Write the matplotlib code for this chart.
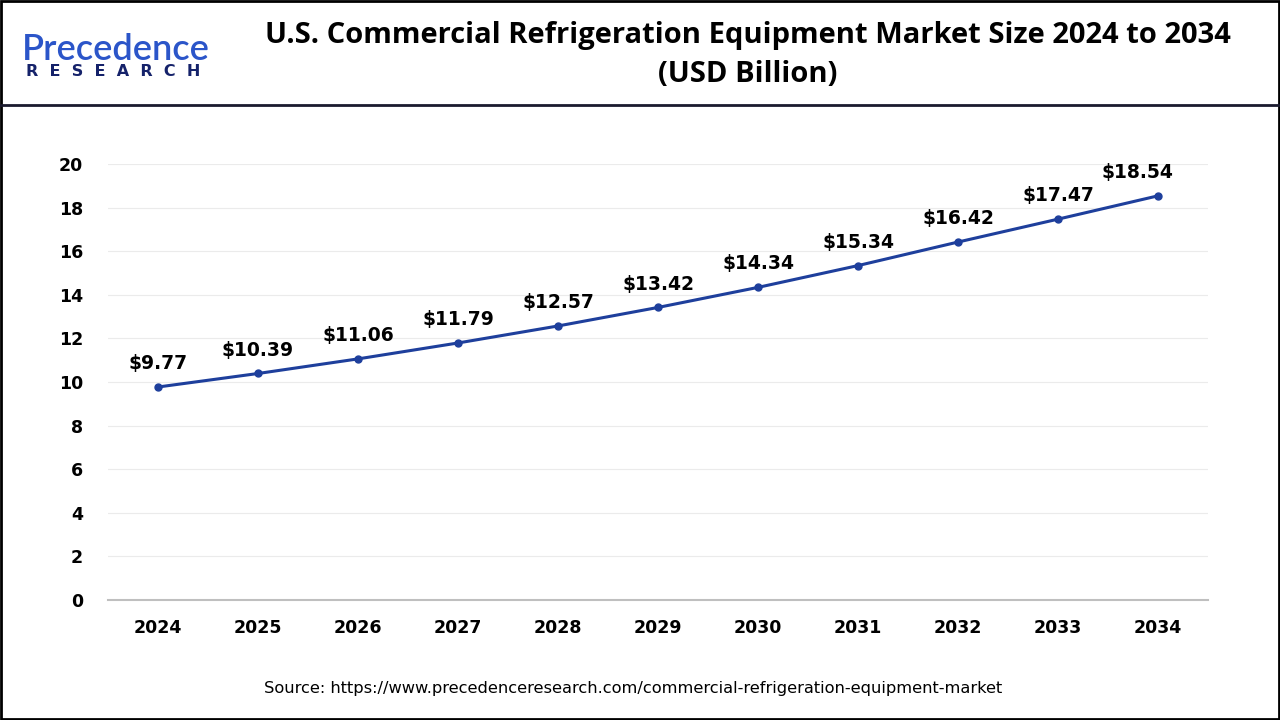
import numpy as np
import matplotlib.pyplot as plt
from matplotlib.patches import Rectangle
from matplotlib.lines import Line2D

# data
years = ["2024", "2025", "2026", "2027", "2028", "2029", "2030", "2031", "2032", "2033", "2034"]
values = [9.77, 10.39, 11.06, 11.79, 12.57, 13.42, 14.34, 15.34, 16.42, 17.47, 18.54]
yticks = [0, 2, 4, 6, 8, 10, 12, 14, 16, 18, 20]

title = "U.S. Commercial Refrigeration Equipment Market Size 2024 to 2034\n(USD Billion)"
source = "Source: https://www.precedenceresearch.com/commercial-refrigeration-equipment-market"

line_color = "#1e3f9c"

fig = plt.figure(figsize=(12.8, 7.2), dpi=100)
fig.patch.set_facecolor("white")

# outer border and header separator
fig.add_artist(Rectangle((0.001, 0.001), 0.998, 0.998, transform=fig.transFigure,
                         fill=False, edgecolor="black", lw=2))
fig.add_artist(Line2D([0, 1], [1 - 105 / 720, 1 - 105 / 720], transform=fig.transFigure,
                      color="#1a1a2e", lw=2))

# logo as text
fig.text(22 / 1280, 1 - 49 / 720, "Precedence", fontsize=26, color="#2b55c9",
         fontfamily="Lato", fontweight="semibold", ha="left", va="center")
fig.text(26 / 1280, 1 - 72 / 720, "R  E  S  E  A  R  C  H", fontsize=11.5, color="#15226a",
         fontweight="bold", fontfamily="DejaVu Sans", ha="left", va="center")

fig.text(748 / 1280, 1 - 55 / 720, title, fontsize=21, fontweight="bold",
         fontfamily="Open Sans", ha="center", va="center", linespacing=1.5)

ax = fig.add_axes([108 / 1280, 1 - 600 / 720, 1100 / 1280, 436 / 720])
x = np.arange(len(years))
ax.plot(x, values, color=line_color, lw=2.2, marker="o", markersize=5, zorder=3)
for xi, v in zip(x, values):
    dx = -15 if xi == x[-1] else 0
    ax.annotate(f"${v:.2f}", (xi, v), xytext=(dx, 10), textcoords="offset points",
                ha="center", va="bottom", fontsize=13.5, fontweight="bold")

ax.set_xlim(-0.5, len(years) - 0.5)
ax.set_ylim(0, 20)
ax.set_yticks(yticks)
ax.set_xticks(x)
ax.set_xticklabels(years)
ax.grid(axis="y", color="#ebebeb", lw=0.8)
ax.set_axisbelow(True)
for s in ["top", "right", "left"]:
    ax.spines[s].set_visible(False)
ax.spines["bottom"].set_color("#bfbfbf")
ax.spines["bottom"].set_linewidth(1.5)
ax.tick_params(length=0)
ax.tick_params(axis="x", pad=14)
ax.tick_params(axis="y", pad=18)
for lab in ax.get_xticklabels() + ax.get_yticklabels():
    lab.set_fontsize(12.5)
    lab.set_fontweight("bold")

fig.text(633 / 1280, 1 - 689 / 720, source, fontsize=11.7, ha="center", va="center")

fig.savefig("out.png", dpi=100)
